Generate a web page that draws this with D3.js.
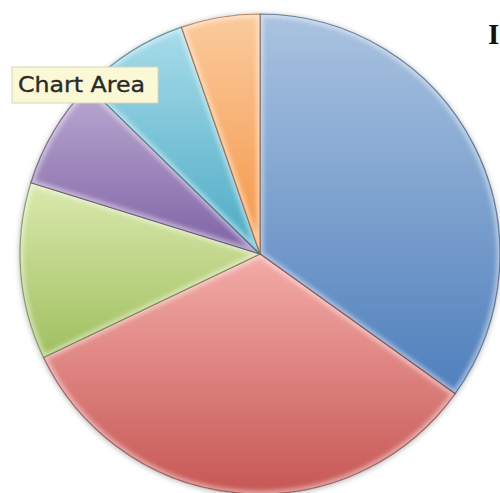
<!DOCTYPE html>
<html>
<head>
<meta charset="utf-8">
<script src="https://cdn.jsdelivr.net/npm/d3@7"></script>
<style>
  html, body { margin: 0; padding: 0; background: #fff; }
  svg { display: block; }
</style>
</head>
<body>
<svg id="chart" width="500" height="493"></svg>
<script>
// slice shares, clockwise from 12 o'clock
const categories = ["Slice 1", "Slice 2", "Slice 3", "Slice 4", "Slice 5", "Slice 6"];
const values = [34.9, 33.0, 11.9, 7.5, 7.4, 5.3];
const topColors = ["#aac3e0", "#f3aca8", "#dbe9ae", "#bbaad2", "#a9dcea", "#fbcb9d"];
const bottomColors = ["#4f7fbc", "#c65754", "#9fbf5f", "#7d62a3", "#4aaac4", "#f59446"];
const tooltipText = "Chart Area";
const titleText = "I";

let width = 500, height = 493;
let cx = 260, cy = 254, radius = 240;

let svg = d3.select("#chart");
let defs = svg.append("defs");

let pieData = d3.pie().sort(null).value(d => d)(values);
let arc = d3.arc().innerRadius(0).outerRadius(radius);

// vertical gradient per slice
let grads = defs.selectAll("linearGradient")
                .data(pieData)
                .enter()
                .append("linearGradient")
                .attr("id", (d, i) => "grad_" + i)
                .attr("x1", 0).attr("y1", 0)
                .attr("x2", 0).attr("y2", 1)
grads.append("stop").attr("offset", "0%").attr("stop-color", (d, i) => topColors[i])
grads.append("stop").attr("offset", "100%").attr("stop-color", (d, i) => bottomColors[i])

defs.selectAll("clipPath")
    .data(pieData)
    .enter()
    .append("clipPath")
    .attr("id", (d, i) => "clip_" + i)
    .append("path")
    .attr("d", arc)

let blur = defs.append("filter").attr("id", "soft")
blur.append("feGaussianBlur").attr("stdDeviation", 2.2)

let shadow = defs.append("filter").attr("id", "shadow")
                 .attr("x", "-10%").attr("y", "-10%").attr("width", "120%").attr("height", "120%")
shadow.append("feGaussianBlur").attr("in", "SourceAlpha").attr("stdDeviation", 3)
shadow.append("feOffset").attr("dx", 0).attr("dy", 1).attr("result", "b")
shadow.append("feComponentTransfer").append("feFuncA").attr("type", "linear").attr("slope", 0.35)
let merge = shadow.append("feMerge")
merge.append("feMergeNode")
merge.append("feMergeNode").attr("in", "SourceGraphic")

let g = svg.append("g").attr("transform", `translate(${cx},${cy})`);

// soft shadow under the pie
g.append("circle")
 .attr("r", radius)
 .attr("fill", "#fff")
 .attr("filter", "url(#shadow)")

let slices = g.selectAll(".slice")
              .data(pieData)
              .enter()
              .append("g")
              .attr("class", "slice")

slices.append("path")
      .attr("d", arc)
      .attr("fill", (d, i) => "url(#grad_" + i + ")")

// bevel: light glow inside the edges
slices.append("path")
      .attr("d", arc)
      .attr("clip-path", (d, i) => "url(#clip_" + i + ")")
      .attr("fill", "none")
      .attr("stroke", "#fff")
      .attr("stroke-opacity", 0.45)
      .attr("stroke-width", 7)
      .attr("stroke-linejoin", "round")
      .attr("filter", "url(#soft)")

// dark edge
slices.append("path")
      .attr("d", arc)
      .attr("fill", "none")
      .attr("stroke", (d, i) => d3.color(bottomColors[i]).darker(1.2))
      .attr("stroke-opacity", 0.7)
      .attr("stroke-width", 1.2)
      .attr("stroke-linejoin", "round")

// tooltip box
let tip = svg.append("g")
tip.append("rect")
   .attr("x", 12).attr("y", 67)
   .attr("width", 146).attr("height", 36)
   .attr("fill", "#fbf8d6")
   .attr("stroke", "#d9d6b8")
   .attr("stroke-width", 1)
tip.append("text")
   .attr("x", 18).attr("y", 92)
   .attr("font-family", "DejaVu Sans, sans-serif")
   .attr("font-size", 21)
   .attr("fill", "#2a2a2a")
   .attr("stroke", "#2a2a2a")
   .attr("stroke-width", 0.35)
   .attr("textLength", 127)
   .attr("lengthAdjust", "spacingAndGlyphs")
   .text(tooltipText)

// title letter at the right edge
svg.append("text")
   .attr("x", 488).attr("y", 44)
   .attr("font-family", "Liberation Serif, serif")
   .attr("font-weight", "bold")
   .attr("font-size", 29)
   .attr("fill", "#111")
   .text(titleText)
</script>
</body>
</html>
